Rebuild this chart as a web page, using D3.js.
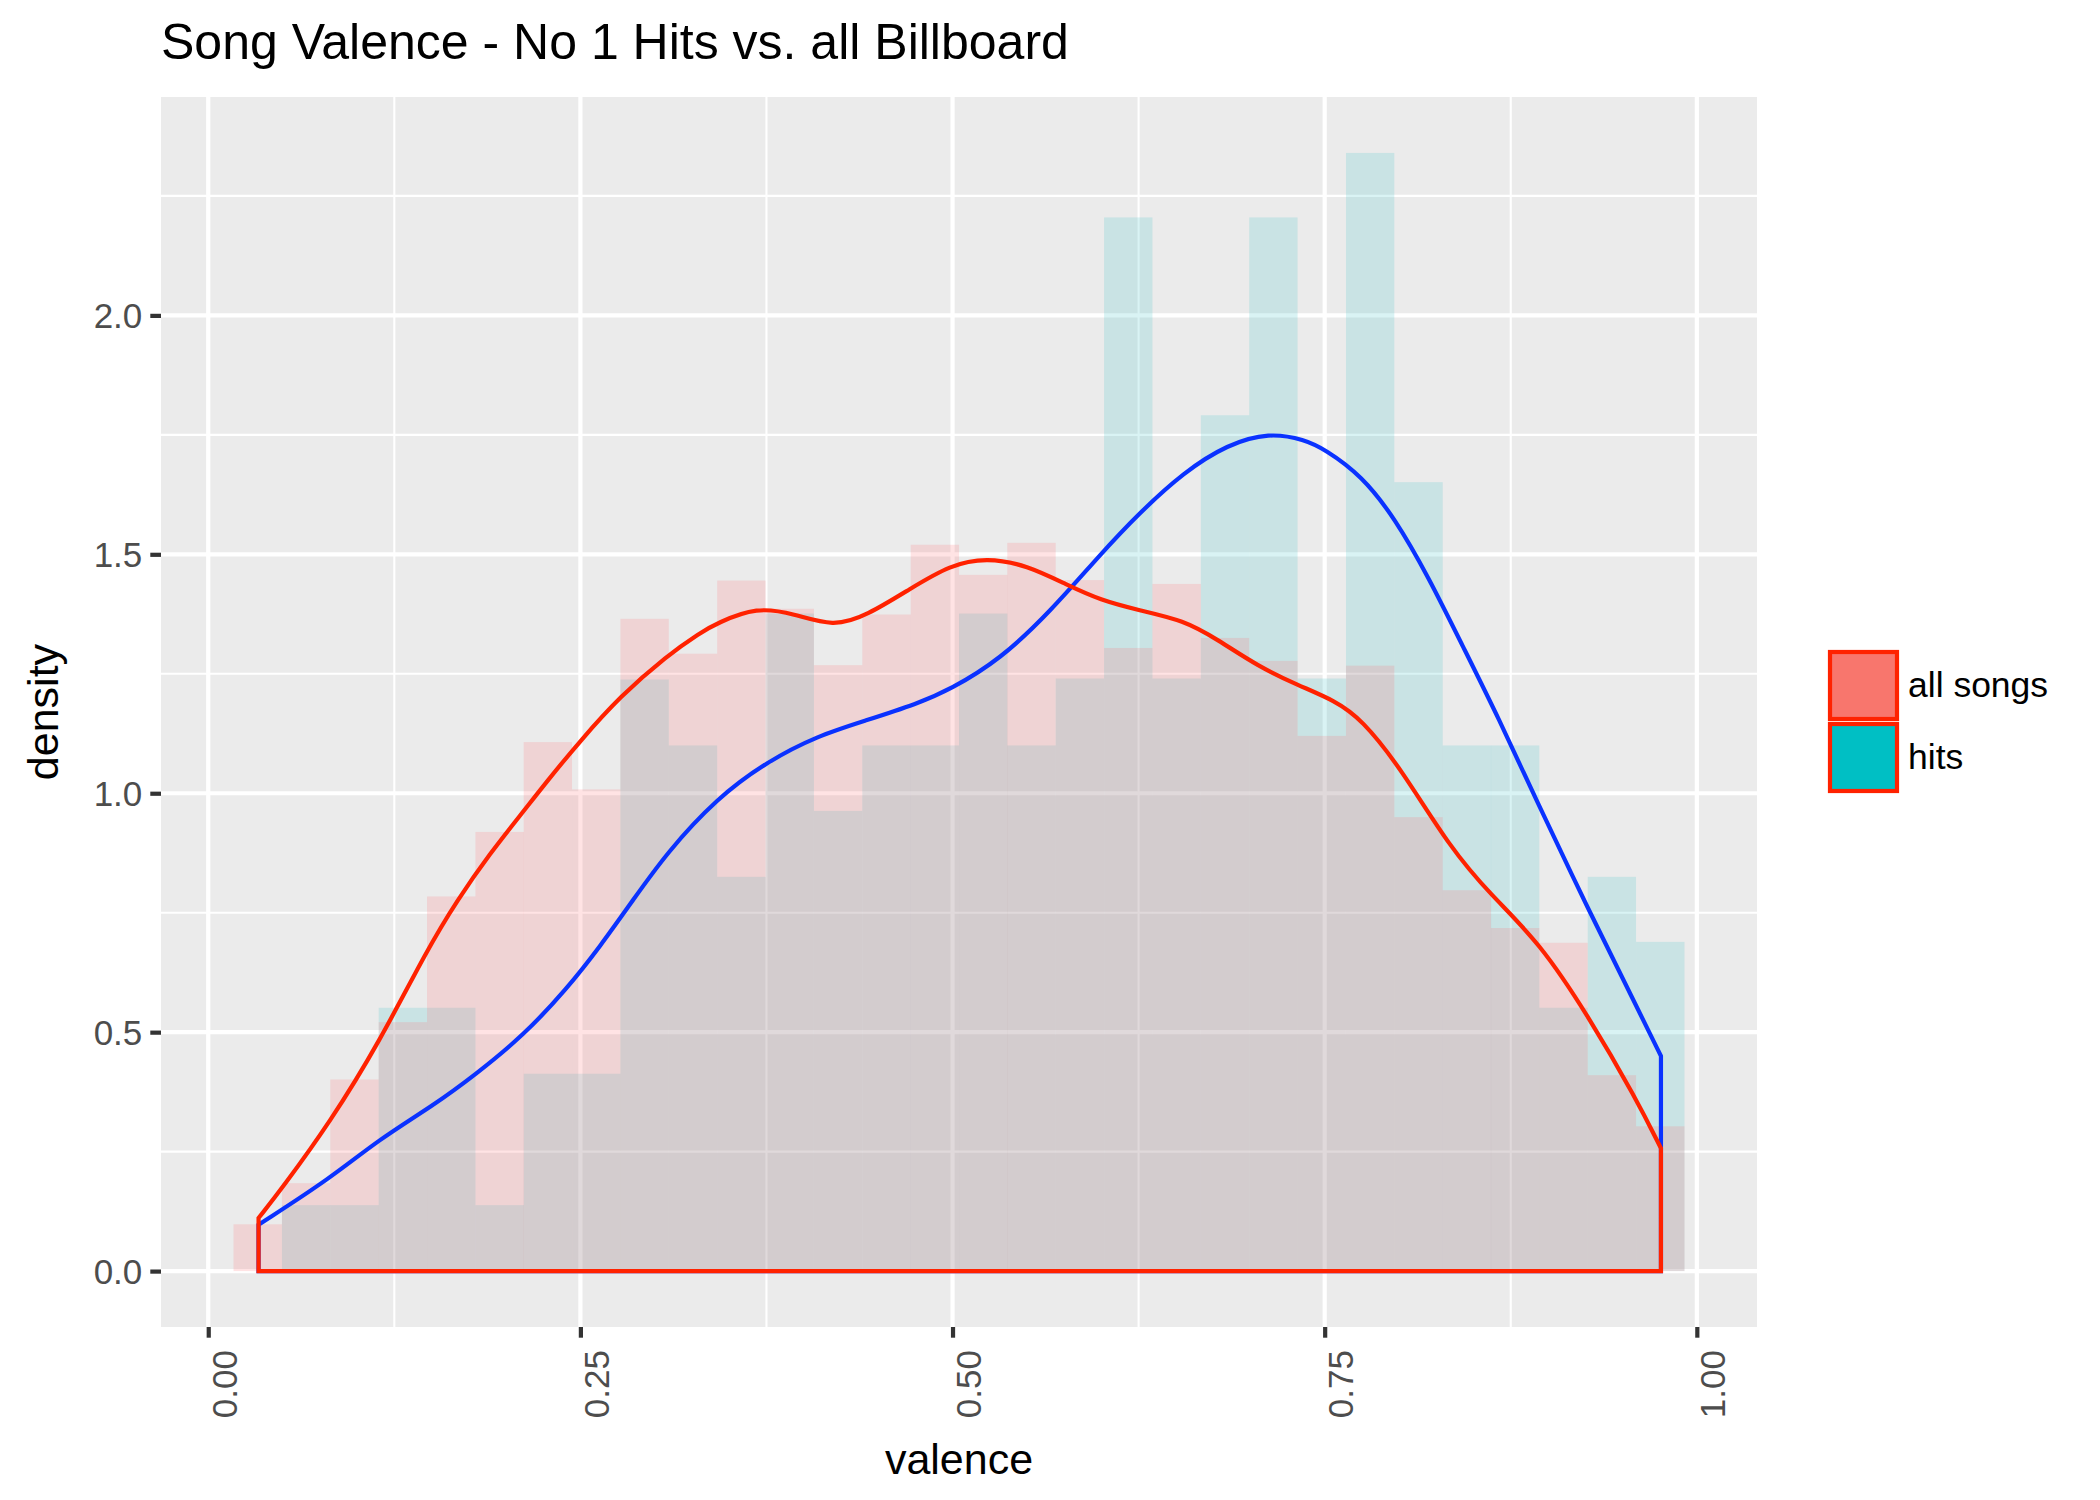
<!DOCTYPE html>
<html>
<head>
<meta charset="utf-8">
<script src="https://cdn.jsdelivr.net/npm/d3@7"></script>
<style>
  html, body { margin: 0; padding: 0; background: #ffffff; }
  svg { display: block; font-family: "Liberation Sans", Arial, Helvetica, sans-serif; }
</style>
</head>
<body>
<svg id="chart" width="2100" height="1500"></svg>
<script>
// ---------------- DATA ----------------
const binStarts = [0.0170, 0.0495, 0.0820, 0.1145, 0.1470, 0.1795, 0.2119, 0.2444, 0.2769, 0.3094,
                   0.3419, 0.3744, 0.4069, 0.4394, 0.4719, 0.5044, 0.5368, 0.5693, 0.6018, 0.6343,
                   0.6668, 0.6993, 0.7318, 0.7643, 0.7968, 0.8293, 0.8617, 0.8942, 0.9267, 0.9592];
const binWidth = 0.03249;

const allSongsHist = [0.098, 0.184, 0.401, 0.521, 0.784, 0.919, 1.107, 1.008, 1.365, 1.292,
                      1.445, 1.386, 1.268, 1.374, 1.520, 1.457, 1.524, 1.446, 1.304, 1.438,
                      1.325, 1.277, 1.120, 1.267, 0.950, 0.797, 0.718, 0.687, 0.410, 0.303];

const hitsHist = [0.000, 0.138, 0.138, 0.551, 0.551, 0.138, 0.413, 0.413, 1.238, 1.100,
                  0.825, 1.376, 0.963, 1.100, 1.100, 1.376, 1.100, 1.240, 2.205, 1.240,
                  1.791, 2.205, 1.240, 2.340, 1.651, 1.100, 1.100, 0.551, 0.825, 0.689];

const allSongsDensX = [0.0338, 0.0495, 0.082, 0.1144, 0.1473, 0.167, 0.1895, 0.21, 0.2275, 0.25,
                       0.2768, 0.3082, 0.3305, 0.3418, 0.3686, 0.3932, 0.42, 0.4425, 0.4716, 0.4985,
                       0.5231, 0.55, 0.5769, 0.5993, 0.625, 0.6554, 0.6779, 0.705, 0.732, 0.7568,
                       0.7748, 0.8008, 0.8344, 0.862, 0.8942, 0.9269, 0.9592, 0.9759];
const allSongsDensY = [0.111, 0.173, 0.3125, 0.476, 0.674, 0.775, 0.875, 0.955, 1.025, 1.110,
                       1.203, 1.288, 1.336, 1.356, 1.390, 1.376, 1.348, 1.372, 1.428, 1.478,
                       1.493, 1.477, 1.436, 1.404, 1.383, 1.362, 1.322, 1.266, 1.226, 1.194,
                       1.155, 1.054, 0.885, 0.786, 0.688, 0.535, 0.361, 0.257];

const hitsDensX = [0.0338, 0.082, 0.1144, 0.1514, 0.179, 0.2118, 0.241, 0.2634, 0.2857, 0.3082,
                   0.3418, 0.3753, 0.409, 0.4425, 0.4761, 0.4985, 0.532, 0.5657, 0.5993, 0.625,
                   0.6554, 0.6847, 0.7128, 0.7365, 0.75, 0.7748, 0.7973, 0.8198, 0.8424, 0.8672,
                   0.8915, 0.9269, 0.9592, 0.9759];
const hitsDensY = [0.097, 0.194, 0.275, 0.347, 0.410, 0.493, 0.591, 0.680, 0.778, 0.876,
                   0.990, 1.066, 1.120, 1.153, 1.187, 1.217, 1.280, 1.380, 1.500, 1.585,
                   1.672, 1.730, 1.755, 1.740, 1.720, 1.665, 1.575, 1.452, 1.310, 1.155,
                   0.990, 0.758, 0.556, 0.450];

const xTicks = [0, 0.25, 0.5, 0.75, 1.0];
const xTickLabels = ["0.00", "0.25", "0.50", "0.75", "1.00"];
const xMinor = [0.125, 0.375, 0.625, 0.875];
const yTicks = [0, 0.5, 1.0, 1.5, 2.0];
const yTickLabels = ["0.0", "0.5", "1.0", "1.5", "2.0"];
const yMinor = [0.25, 0.75, 1.25, 1.75, 2.25];

const seriesNames = ["all songs", "hits"];
const legendFills = ["#F8766D", "#00BFC4"];

// ---------------- LAYOUT ----------------
const panel = { left: 161, right: 1757, top: 97, bottom: 1327 };
const svg = d3.select("#chart");

const xLo = binStarts[0], xHi = binStarts[binStarts.length - 1] + binWidth;
const xPad = (xHi - xLo) * 0.05;
const x = d3.scaleLinear().domain([xLo - xPad, xHi + xPad]).range([panel.left, panel.right]);

const yMax = d3.max(allSongsHist.concat(hitsHist));
const y = d3.scaleLinear().domain([-0.05 * yMax, 1.05 * yMax]).range([panel.bottom, panel.top]);

const majorW = 4.2, minorW = 2.1;

// panel background
svg.append("rect")
  .attr("x", panel.left).attr("y", panel.top)
  .attr("width", panel.right - panel.left).attr("height", panel.bottom - panel.top)
  .attr("fill", "#EBEBEB");

const grid = svg.append("g");
grid.selectAll(".xminor").data(xMinor).join("line")
  .attr("x1", d => x(d)).attr("x2", d => x(d))
  .attr("y1", panel.top).attr("y2", panel.bottom)
  .attr("stroke", "#fff").attr("stroke-width", minorW);
grid.selectAll(".yminor").data(yMinor).join("line")
  .attr("y1", d => y(d)).attr("y2", d => y(d))
  .attr("x1", panel.left).attr("x2", panel.right)
  .attr("stroke", "#fff").attr("stroke-width", minorW);
grid.selectAll(".xmajor").data(xTicks).join("line")
  .attr("x1", d => x(d)).attr("x2", d => x(d))
  .attr("y1", panel.top).attr("y2", panel.bottom)
  .attr("stroke", "#fff").attr("stroke-width", majorW);
grid.selectAll(".ymajor").data(yTicks).join("line")
  .attr("y1", d => y(d)).attr("y2", d => y(d))
  .attr("x1", panel.left).attr("x2", panel.right)
  .attr("stroke", "#fff").attr("stroke-width", majorW);

// histograms (hits first, all songs over it)
function drawHist(values, fill) {
  svg.append("g").selectAll("rect")
    .data(values.map((v, i) => ({ x0: binStarts[i], x1: binStarts[i] + binWidth, v })))
    .join("rect")
    .attr("x", d => x(d.x0))
    .attr("width", d => x(d.x1) - x(d.x0))
    .attr("y", d => y(d.v))
    .attr("height", d => y(0) - y(d.v))
    .attr("fill", fill)
    .attr("fill-opacity", 0.2);
}
drawHist(hitsHist, "#41C3C8");
drawHist(allSongsHist, "#FF7378");

// density outlines
function densityPath(xs, ys) {
  const pts = xs.map((d, i) => [x(d), y(ys[i])]);
  const line = d3.line().curve(d3.curveBasis);
  const top = line(pts);
  const last = pts[pts.length - 1], first = pts[0];
  return top + `L${last[0]},${y(0)}L${first[0]},${y(0)}Z`;
}
svg.append("path")
  .attr("d", densityPath(hitsDensX, hitsDensY))
  .attr("fill", "none").attr("stroke", "#0A32FF").attr("stroke-width", 4.2)
  .attr("stroke-linejoin", "miter");
svg.append("path")
  .attr("d", densityPath(allSongsDensX, allSongsDensY))
  .attr("fill", "none").attr("stroke", "#FF2200").attr("stroke-width", 4.2)
  .attr("stroke-linejoin", "miter");

// ---------------- AXES ----------------
const tickLen = 10.7;
const yAxis = d3.axisLeft(y).tickValues(yTicks)
  .tickFormat((d, i) => yTickLabels[i]).tickSize(tickLen).tickPadding(8);
const gy = svg.append("g").attr("transform", `translate(${panel.left},0)`).call(yAxis);
gy.select(".domain").remove();
gy.selectAll(".tick line").attr("stroke", "#333333").attr("stroke-width", 4.2);
gy.selectAll(".tick text").attr("fill", "#4D4D4D").style("font-size", "35px")
  .style("font-family", "'Liberation Sans', Arial, sans-serif").attr("dy", "0.36em");

const xAxis = d3.axisBottom(x).tickValues(xTicks)
  .tickFormat((d, i) => xTickLabels[i]).tickSize(tickLen);
const gx = svg.append("g").attr("transform", `translate(0,${panel.bottom})`).call(xAxis);
gx.select(".domain").remove();
gx.selectAll(".tick line").attr("stroke", "#333333").attr("stroke-width", 4.2);
gx.selectAll(".tick text")
  .attr("fill", "#4D4D4D").style("font-size", "35px")
  .style("font-family", "'Liberation Sans', Arial, sans-serif")
  .attr("transform", "rotate(-90)")
  .attr("text-anchor", "end")
  .attr("x", -23).attr("y", 28).attr("dy", 0);

// axis titles
svg.append("text")
  .attr("x", (panel.left + panel.right) / 2).attr("y", 1474)
  .attr("text-anchor", "middle").attr("fill", "#000")
  .style("font-size", "43px").text("valence");
svg.append("text")
  .attr("transform", `translate(58,${(panel.top + panel.bottom) / 2}) rotate(-90)`)
  .attr("text-anchor", "middle").attr("fill", "#000")
  .style("font-size", "43px").text("density");

// title
svg.append("text")
  .attr("x", panel.left).attr("y", 59)
  .attr("fill", "#000").style("font-size", "50px")
  .text("Song Valence - No 1 Hits vs. all Billboard");

// ---------------- LEGEND ----------------
const lg = svg.append("g");
seriesNames.forEach((name, i) => {
  const top = 650 + i * 72;
  lg.append("rect")
    .attr("x", 1830).attr("y", top + 2).attr("width", 67).attr("height", 67)
    .attr("fill", legendFills[i]).attr("stroke", "#FF2200").attr("stroke-width", 4.2);
  lg.append("text")
    .attr("x", 1908).attr("y", top + 47)
    .attr("fill", "#000").style("font-size", "35.5px").text(name);
});
</script>
</body>
</html>
